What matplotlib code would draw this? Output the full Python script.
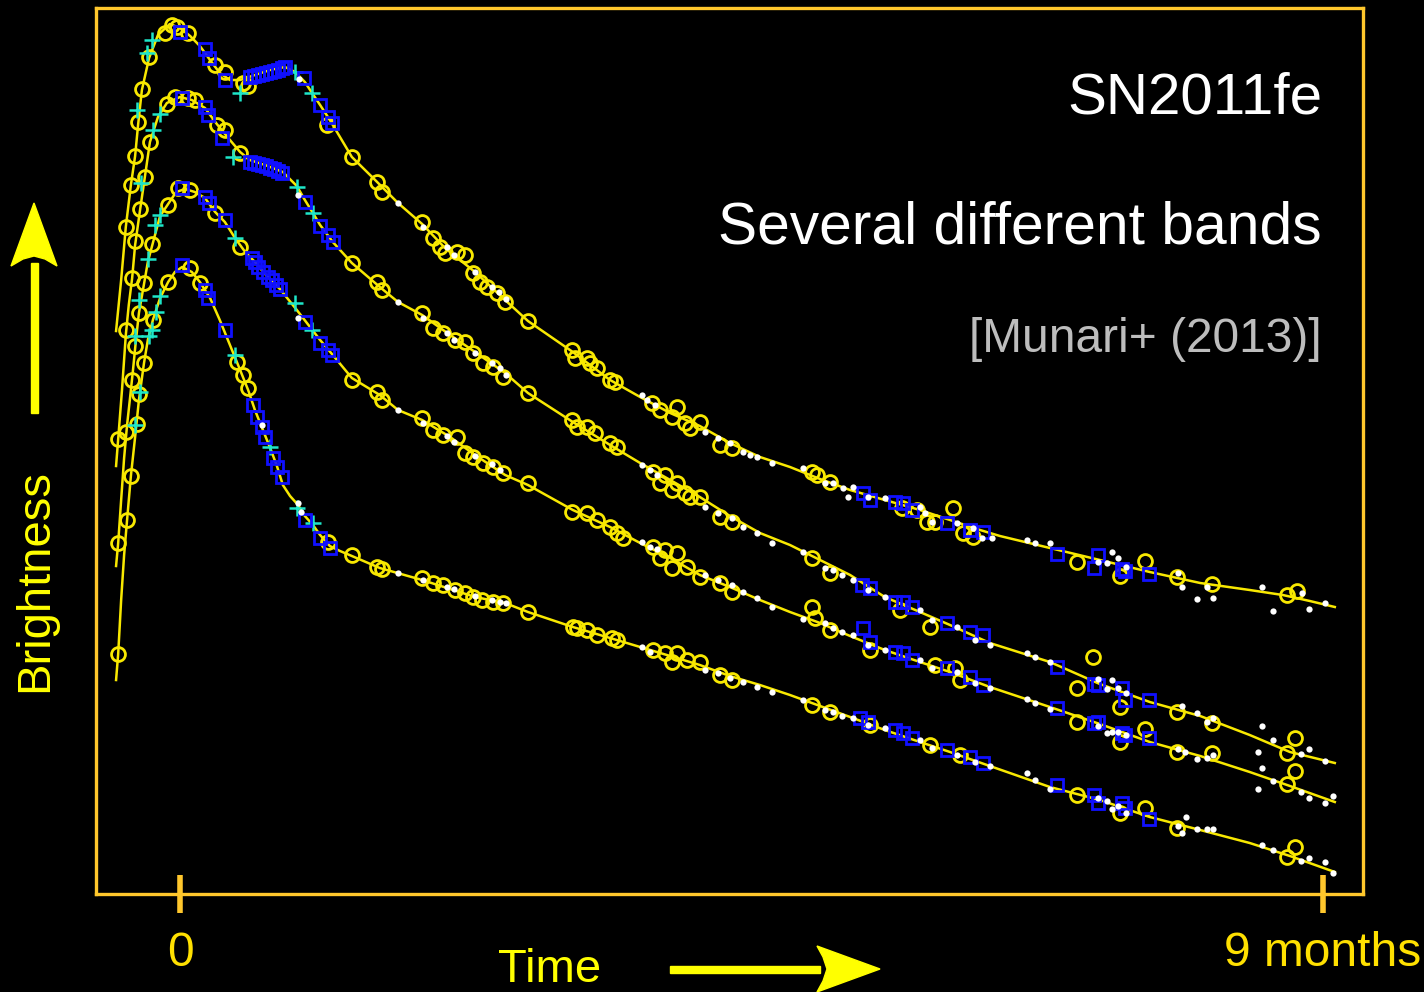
import numpy as np
import matplotlib.pyplot as plt
from matplotlib.patches import Polygon, Rectangle

plt.rcParams['font.family'] = ['Liberation Sans', 'DejaVu Sans']

# light curves of SN2011fe, four bands (top to bottom)
# time in days from peak, brightness as relative magnitude (bigger = fainter)
band_a_line = [(-15.1, 3.31), (-13.9, 2.80), (-12.8, 2.27), (-11.6, 1.85), (-10.6, 1.56), (-9.9, 1.25),
               (-9.0, 0.90), (-7.3, 0.58), (-5.2, 0.35), (-2.4, 0.24), (0, 0.28), (2.4, 0.36), (4.7, 0.46),
               (7.1, 0.60), (9.4, 0.73), (11.8, 0.80), (14.2, 0.80), (17.7, 0.75), (21.3, 0.70), (24.8, 0.67),
               (27.2, 0.72), (29.5, 0.82), (31.2, 0.93), (33.1, 1.05), (35.4, 1.20), (40.6, 1.57), (46.1, 1.80),
               (51.5, 2.03), (57.2, 2.24), (62.6, 2.48), (69.7, 2.72), (76.8, 3.00), (82.2, 3.21), (92.8, 3.52),
               (101.6, 3.80), (108.7, 3.97), (115.8, 4.13), (122.8, 4.26), (129.9, 4.43), (137.0, 4.57),
               (144.1, 4.67), (151.2, 4.79), (158.3, 4.90), (166.5, 5.00), (174.8, 5.10), (181.9, 5.20),
               (189.0, 5.30), (193.7, 5.36), (205.5, 5.48), (217.3, 5.60), (229.1, 5.72), (241.0, 5.83),
               (252.7, 5.90), (260.5, 5.95), (266.9, 6.01), (272.8, 6.07)]
band_b_line = [(-15.1, 4.66), (-14.6, 4.39), (-13.7, 3.90), (-12.8, 3.35), (-12.1, 3.05), (-11.3, 2.78),
               (-10.6, 2.45), (-9.4, 2.09), (-8.3, 1.77), (-7.1, 1.42), (-5.2, 1.17), (-3.1, 1.03), (0, 0.97),
               (2.8, 1.00), (5.9, 1.08), (8.7, 1.24), (11.8, 1.40), (14.2, 1.52), (16.5, 1.60), (20.1, 1.65),
               (24.3, 1.72), (27.6, 1.86), (29.5, 2.00), (31.4, 2.13), (33.1, 2.25), (36.1, 2.42), (40.6, 2.63),
               (47.2, 2.87), (51.5, 3.02), (57.2, 3.15), (63.8, 3.35), (69.7, 3.52), (76.8, 3.73), (82.2, 3.93),
               (92.8, 4.22), (101.6, 4.45), (108.7, 4.63), (115.8, 4.80), (122.8, 4.97), (129.9, 5.16),
               (137.0, 5.33), (144.1, 5.45), (151.2, 5.60), (158.3, 5.75), (166.5, 5.97), (174.8, 6.12),
               (181.9, 6.25), (191.3, 6.43), (205.5, 6.62), (217.3, 6.84), (229.1, 7.02), (241.0, 7.16),
               (252.7, 7.35), (262.2, 7.52), (272.8, 7.63)]
band_c_line = [(-15.1, 5.66), (-14.6, 5.43), (-13.9, 5.00), (-13.2, 4.58), (-12.5, 4.25), (-11.8, 3.98),
               (-11.1, 3.70), (-10.4, 3.40), (-9.7, 3.13), (-8.5, 2.84), (-7.6, 2.62), (-6.6, 2.46),
               (-4.7, 2.16), (-2.8, 2.04), (-0.9, 1.92), (1.2, 1.89), (3.5, 1.92), (5.9, 1.98), (8.3, 2.12),
               (10.6, 2.22), (13.0, 2.38), (15.4, 2.52), (17.7, 2.62), (20.1, 2.74), (23.6, 2.89), (27.6, 3.10),
               (33.1, 3.40), (36.1, 3.55), (40.6, 3.78), (47.2, 3.95), (51.5, 4.10), (57.2, 4.20), (63.8, 4.37),
               (69.7, 4.55), (76.8, 4.75), (82.2, 4.85), (92.8, 5.10), (101.6, 5.27), (108.7, 5.43),
               (115.8, 5.58), (122.8, 5.75), (129.9, 5.87), (137.0, 6.00), (144.1, 6.12), (151.2, 6.23),
               (158.3, 6.36), (166.5, 6.50), (174.8, 6.62), (181.9, 6.72), (191.3, 6.87), (205.5, 7.07),
               (217.3, 7.24), (229.1, 7.42), (241.0, 7.56), (252.7, 7.72), (262.2, 7.86), (272.8, 8.02)]
band_d_line = [(-15.1, 6.80), (-14.6, 6.54), (-13.9, 6.00), (-13.2, 5.55), (-12.5, 5.20), (-11.6, 4.76),
               (-10.6, 4.37), (-9.7, 4.00), (-8.5, 3.63), (-7.6, 3.40), (-6.4, 3.20), (-4.7, 2.98),
               (-2.8, 2.82), (-1.2, 2.72), (0.5, 2.67), (2.8, 2.72), (4.7, 2.82), (7.1, 2.98), (9.4, 3.20),
               (11.8, 3.45), (14.2, 3.70), (16.1, 3.90), (17.7, 4.10), (19.4, 4.28), (21.3, 4.48), (22.9, 4.66),
               (24.3, 4.85), (26.0, 4.96), (27.9, 5.05), (29.5, 5.16), (31.4, 5.25), (33.1, 5.35), (35.4, 5.46),
               (37.8, 5.51), (40.6, 5.56), (47.2, 5.68), (57.2, 5.80), (69.7, 5.97), (76.8, 6.03), (82.2, 6.12),
               (92.8, 6.27), (101.6, 6.38), (108.7, 6.47), (115.8, 6.56), (122.8, 6.65), (129.9, 6.76),
               (137.0, 6.85), (144.1, 6.95), (151.2, 7.06), (158.3, 7.17), (166.5, 7.30), (174.8, 7.42),
               (181.9, 7.52), (191.3, 7.66), (205.5, 7.87), (217.3, 8.00), (229.1, 8.17), (241.0, 8.30),
               (252.7, 8.43), (262.2, 8.56), (272.8, 8.72)]

# yellow circles (one photometry set)
band_a_circ = [(-12.8, 2.27), (-11.6, 1.85), (-10.6, 1.56), (-9.9, 1.22), (-9.0, 0.89), (-7.3, 0.57),
               (-3.5, 0.33), (-1.9, 0.25), (-0.7, 0.27), (1.9, 0.33), (8.3, 0.65), (10.6, 0.72), (14.9, 0.83),
               (16.1, 0.86), (34.7, 1.25), (40.6, 1.57), (46.5, 1.82), (47.7, 1.92), (57.2, 2.22), (59.8, 2.38),
               (61.4, 2.47), (62.6, 2.53), (65.4, 2.52), (67.3, 2.55), (69.2, 2.73), (70.9, 2.82), (72.5, 2.87),
               (74.9, 2.93), (76.8, 3.02), (82.2, 3.21), (92.6, 3.50), (93.3, 3.58), (96.1, 3.58), (96.9, 3.63),
               (98.5, 3.68), (101.6, 3.80), (102.8, 3.82), (111.5, 4.03), (113.4, 4.10), (117.4, 4.07),
               (116.2, 4.17), (119.3, 4.23), (120.5, 4.28), (122.8, 4.22), (127.6, 4.45), (130.4, 4.48),
               (149.3, 4.72), (150.5, 4.75), (153.5, 4.82), (170.6, 5.08), (174.1, 5.10), (176.5, 5.22),
               (178.4, 5.22), (182.6, 5.08), (185.0, 5.33), (187.3, 5.37), (211.9, 5.62), (222.1, 5.76),
               (228.0, 5.61), (235.5, 5.77), (243.8, 5.84), (261.6, 5.95), (263.8, 5.91)]
band_b_circ = [(-14.6, 4.39), (-12.8, 3.30), (-11.3, 2.78), (-10.6, 2.41), (-9.4, 2.09), (-8.3, 1.77),
               (-7.1, 1.42), (-3.1, 1.04), (-1.2, 0.97), (1.9, 0.98), (3.5, 1.00), (8.7, 1.25), (10.6, 1.30),
               (14.2, 1.53), (40.6, 2.63), (46.5, 2.82), (47.7, 2.90), (57.2, 3.13), (59.8, 3.28), (62.1, 3.33),
               (65.0, 3.40), (67.3, 3.42), (69.2, 3.53), (71.6, 3.63), (73.9, 3.67), (76.3, 3.77), (82.2, 3.93),
               (92.6, 4.20), (93.8, 4.27), (96.1, 4.27), (98.0, 4.33), (101.6, 4.43), (103.2, 4.47),
               (111.7, 4.72), (114.6, 4.75), (113.4, 4.83), (117.4, 4.83), (116.2, 4.90), (119.3, 4.93),
               (120.5, 4.97), (122.8, 4.97), (127.6, 5.17), (130.4, 5.22), (149.3, 5.58), (153.5, 5.73),
               (170.1, 6.10), (177.2, 6.27), (211.9, 6.88), (215.7, 6.57), (222.1, 7.07), (235.5, 7.12),
               (243.8, 7.23), (261.4, 7.53), (263.5, 7.38)]
band_c_circ = [(-14.6, 5.43), (-12.8, 4.32), (-11.3, 3.80), (-10.6, 3.46), (-9.7, 3.13), (-8.5, 2.83),
               (-6.6, 2.44), (-2.8, 2.05), (-0.5, 1.88), (2.4, 1.90), (8.3, 2.13), (14.2, 2.47),
               (40.6, 3.80), (46.5, 3.92), (47.7, 4.00), (57.2, 4.18), (59.8, 4.30), (62.1, 4.35), (65.4, 4.37),
               (67.3, 4.53), (69.2, 4.57), (71.6, 4.63), (73.9, 4.67), (76.3, 4.73), (82.2, 4.83), (92.6, 5.12),
               (96.1, 5.13), (98.5, 5.20), (101.6, 5.27), (103.2, 5.33), (104.7, 5.38), (111.7, 5.47),
               (114.6, 5.50), (117.4, 5.53), (113.4, 5.58), (116.2, 5.68), (119.8, 5.67), (122.8, 5.77),
               (127.6, 5.83), (130.4, 5.92), (149.3, 6.07), (150.0, 6.18), (153.5, 6.30), (163.0, 6.50),
               (178.4, 6.65), (183.1, 6.68), (184.3, 6.80), (211.9, 7.22), (222.1, 7.42), (228.0, 7.29),
               (235.5, 7.52), (243.8, 7.53), (261.6, 7.84), (263.5, 7.71)]
band_d_circ = [(-14.6, 6.54), (-12.5, 5.20), (-11.6, 4.76), (-10.2, 4.24), (-9.7, 3.94), (-8.5, 3.63),
               (-6.4, 3.20), (-2.8, 2.82), (2.4, 2.68), (4.7, 2.83), (13.5, 3.62), (14.9, 3.75),
               (16.1, 3.88), (35.0, 5.42), (40.6, 5.55), (46.5, 5.67), (47.7, 5.69), (57.2, 5.78), (59.8, 5.83),
               (62.1, 5.85), (65.0, 5.90), (67.3, 5.93), (69.2, 5.97), (71.3, 6.00), (73.9, 6.02), (76.3, 6.03),
               (82.2, 6.12), (92.8, 6.27), (93.8, 6.28), (96.1, 6.30), (98.5, 6.35), (102.1, 6.38), (103.2, 6.40),
               (111.7, 6.50), (114.6, 6.53), (117.4, 6.53), (116.2, 6.62), (119.8, 6.60), (122.8, 6.62),
               (127.6, 6.75), (130.4, 6.80), (149.3, 7.05), (153.5, 7.12), (163.0, 7.25), (177.2, 7.45),
               (184.3, 7.55), (211.9, 7.95), (222.1, 8.13), (228.0, 8.08), (235.5, 8.28), (261.6, 8.57),
               (263.5, 8.47)]

# cyan crosses
band_a_plus = [(-10.2, 1.10), (-7.8, 0.53), (-6.6, 0.40), (14.2, 0.93), (27.2, 0.72), (31.2, 0.93)]
band_b_plus = [(-9.2, 1.83), (-6.4, 1.30), (-4.7, 1.14), (12.5, 1.57), (27.6, 1.87), (31.4, 2.13)]
band_c_plus = [(-10.6, 3.36), (-9.7, 3.00), (-7.6, 2.59), (-5.9, 2.25), (-4.7, 2.15), (13.0, 2.38),
               (27.2, 3.03), (31.2, 3.30)]
band_d_plus = [(-10.6, 4.25), (-9.4, 3.92), (-7.3, 3.36), (-6.6, 3.30), (-5.7, 3.12), (-4.7, 2.96),
               (13.0, 3.55), (21.3, 4.47), (27.6, 5.08), (31.4, 5.23)]

# blue squares
band_a_sq = [(0, 0.32), (5.9, 0.49), (6.9, 0.58), (10.6, 0.80), (16.5, 0.77), (17.5, 0.76), (18.4, 0.75),
             (19.4, 0.74), (20.3, 0.73), (21.3, 0.72), (22.2, 0.71), (23.2, 0.70), (24.1, 0.68), (24.8, 0.67),
             (29.3, 0.78), (33.1, 1.05), (35.0, 1.17), (35.9, 1.23), (161.3, 4.93), (163.0, 5.00),
             (168.9, 5.02), (170.8, 5.03), (172.9, 5.10), (181.2, 5.23), (186.6, 5.30), (189.7, 5.32),
             (207.2, 5.54), (216.9, 5.55), (215.9, 5.68), (222.5, 5.69), (223.2, 5.71), (228.9, 5.74)]
band_b_sq = [(0.5, 0.98), (5.9, 1.07), (6.6, 1.15), (9.9, 1.38), (16.5, 1.62), (17.5, 1.63), (18.4, 1.64),
             (19.4, 1.65), (20.3, 1.66), (21.3, 1.68), (22.2, 1.69), (23.2, 1.71), (24.1, 1.73), (29.5, 2.02),
             (33.1, 2.26), (35.0, 2.35), (36.1, 2.42), (161.1, 5.85), (163.0, 5.88), (168.9, 6.02),
             (170.8, 6.02), (172.9, 6.07), (181.2, 6.23), (186.6, 6.32), (189.7, 6.35), (207.2, 6.67),
             (215.9, 6.84), (216.9, 6.85), (222.5, 6.88), (223.2, 7.00), (228.9, 7.00)]
band_c_sq = [(0.5, 1.88), (5.9, 1.97), (6.9, 2.03), (10.6, 2.20), (17.0, 2.58), (17.7, 2.62), (18.4, 2.67),
             (19.6, 2.72), (20.8, 2.77), (21.7, 2.80), (22.7, 2.85), (23.6, 2.89), (29.5, 3.22), (33.1, 3.43),
             (35.0, 3.50), (35.9, 3.55), (161.3, 6.28), (163.0, 6.42), (168.9, 6.52), (170.8, 6.53),
             (172.9, 6.60), (181.2, 6.68), (186.6, 6.77), (189.7, 6.85), (207.2, 7.08), (215.9, 7.23),
             (216.9, 7.22), (222.5, 7.33), (223.2, 7.35), (228.9, 7.38)]
band_d_sq = [(0.5, 2.65), (5.9, 2.90), (6.6, 2.98), (10.6, 3.30), (17.2, 4.05), (18.2, 4.17), (19.4, 4.27),
             (20.1, 4.37), (22.0, 4.58), (22.9, 4.67), (24.1, 4.77), (29.5, 5.20), (33.1, 5.38), (35.4, 5.48),
             (160.6, 7.18), (162.5, 7.22), (168.9, 7.30), (170.8, 7.33), (172.9, 7.38), (181.2, 7.50),
             (186.6, 7.57), (189.7, 7.63), (207.2, 7.85), (215.9, 7.95), (216.9, 8.03), (222.5, 8.03),
             (223.2, 8.08), (228.9, 8.19)]

# white dots
band_a_dot = [(28.1, 0.79), (51.5, 2.03), (57.4, 2.27), (63.1, 2.47), (64.7, 2.55), (69.7, 2.72), (73.7, 2.87),
              (75.4, 2.92), (77.0, 2.99), (109.2, 3.95), (110.3, 4.00), (112.2, 4.05), (124.0, 4.32),
              (127.1, 4.38), (129.9, 4.43), (133.0, 4.52), (134.7, 4.55), (136.3, 4.57), (139.8, 4.63),
              (147.2, 4.68), (152.4, 4.83), (154.3, 4.83), (156.6, 4.88), (157.8, 4.97), (159.0, 4.87),
              (162.5, 4.97), (166.5, 4.98), (174.8, 5.07), (176.0, 5.13), (177.6, 5.22), (183.5, 5.23),
              (187.3, 5.28), (189.5, 5.38), (191.8, 5.38), (200.1, 5.40), (202.0, 5.43), (205.5, 5.43),
              (216.9, 5.62), (219.0, 5.63), (220.2, 5.52), (221.6, 5.58), (223.5, 5.67), (235.8, 5.73),
              (236.7, 5.87), (240.2, 5.99), (242.6, 5.87), (244.0, 5.98), (255.5, 5.87), (258.1, 6.11),
              (265.0, 5.93), (266.7, 6.09), (270.5, 6.03)]
band_b_dot = [(27.9, 1.95), (51.5, 3.02), (57.4, 3.18), (63.1, 3.33), (64.7, 3.40), (69.7, 3.53), (73.7, 3.63),
              (75.6, 3.68), (77.0, 3.75), (109.2, 4.65), (111.0, 4.70), (112.7, 4.75), (124.0, 5.07),
              (127.1, 5.13), (130.4, 5.18), (133.0, 5.27), (136.3, 5.33), (139.8, 5.43), (147.2, 5.52),
              (152.4, 5.68), (154.3, 5.70), (156.4, 5.75), (159.0, 5.80), (162.5, 5.90), (166.5, 5.97),
              (174.8, 6.10), (177.6, 6.20), (183.5, 6.27), (187.8, 6.40), (191.3, 6.45), (200.1, 6.53),
              (202.0, 6.57), (205.5, 6.62), (216.9, 6.79), (219.0, 6.89), (220.2, 6.80), (221.6, 6.88),
              (223.5, 6.93), (236.7, 7.06), (240.2, 7.13), (242.6, 7.22), (244.0, 7.18), (254.6, 7.52),
              (255.5, 7.26), (258.1, 7.40), (264.8, 7.54), (266.7, 7.49), (270.5, 7.61)]
band_c_dot = [(27.9, 3.18), (51.5, 4.10), (57.4, 4.23), (63.1, 4.36), (64.7, 4.42), (69.7, 4.56), (73.7, 4.64),
              (75.6, 4.70), (109.2, 5.42), (111.0, 5.47), (112.7, 5.49), (124.0, 5.75), (127.1, 5.80),
              (130.4, 5.85), (133.0, 5.92), (136.3, 5.98), (139.8, 6.07), (147.2, 6.19), (152.4, 6.23),
              (154.3, 6.28), (156.4, 6.32), (159.0, 6.35), (162.5, 6.45), (166.5, 6.50), (174.8, 6.60),
              (177.6, 6.68), (183.5, 6.72), (187.8, 6.83), (191.3, 6.88), (200.1, 6.99), (202.0, 7.03),
              (205.5, 7.09), (216.9, 7.26), (219.0, 7.33), (220.2, 7.32), (221.6, 7.32), (223.5, 7.35),
              (235.8, 7.49), (237.4, 7.52), (240.2, 7.59), (242.6, 7.58), (244.0, 7.55), (254.6, 7.89),
              (255.5, 7.68), (258.1, 7.81), (264.8, 7.92), (266.7, 7.98), (270.5, 8.03), (272.4, 7.96)]
band_d_dot = [(19.4, 4.25), (27.9, 5.03), (28.6, 5.12), (51.5, 5.73), (57.4, 5.80), (63.1, 5.87), (64.7, 5.89),
              (69.7, 5.96), (73.7, 6.00), (75.6, 6.02), (77.0, 6.03), (109.2, 6.47), (111.0, 6.52),
              (124.0, 6.70), (127.1, 6.73), (129.9, 6.78), (133.0, 6.82), (136.3, 6.87), (139.8, 6.92),
              (147.2, 7.00), (152.4, 7.10), (154.3, 7.12), (156.4, 7.16), (159.0, 7.18), (162.5, 7.25),
              (166.5, 7.28), (174.8, 7.40), (177.6, 7.48), (183.5, 7.55), (187.8, 7.62), (191.3, 7.66),
              (200.1, 7.73), (202.0, 7.80), (205.5, 7.89), (216.9, 7.98), (219.0, 8.01), (220.2, 8.09),
              (221.6, 8.06), (223.5, 8.13), (235.8, 8.26), (236.7, 8.33), (237.7, 8.17), (240.2, 8.29),
              (242.6, 8.29), (244.0, 8.29), (255.5, 8.45), (258.1, 8.50), (264.8, 8.61), (266.7, 8.58),
              (270.5, 8.62), (272.4, 8.73)]

tick_days = [0, 270]
tick_labels = ['0', '9 months']

YELLOW = '#F8E800'
GOLD = '#FFC72C'
CYAN = '#1EE6C8'
BLUE = '#1010FF'

W, H = 1424, 992
fig = plt.figure(figsize=(W / 100, H / 100), dpi=100, facecolor='black')
ax = fig.add_axes([96 / W, 1 - 894 / H, (1363 - 96) / W, (894 - 8) / H])
ax.set_facecolor('black')


def unzip(pts):
    a = np.array(pts)
    return a[:, 0], a[:, 1]


lines = [band_a_line, band_b_line, band_c_line, band_d_line]
circs = [band_a_circ, band_b_circ, band_c_circ, band_d_circ]
pluses = [band_a_plus, band_b_plus, band_c_plus, band_d_plus]
squares = [band_a_sq, band_b_sq, band_c_sq, band_d_sq]
dots = [band_a_dot, band_b_dot, band_c_dot, band_d_dot]

for ln in lines:
    t, m = unzip(ln)
    ax.plot(t, m, '-', color=YELLOW, lw=1.8, zorder=2)
for c in circs:
    t, m = unzip(c)
    ax.plot(t, m, 'o', mfc='none', mec=YELLOW, mew=2, ms=10, zorder=3)
for p in pluses:
    t, m = unzip(p)
    ax.plot(t, m, '+', color=CYAN, mew=1.8, ms=11, zorder=4)
for s in squares:
    t, m = unzip(s)
    ax.plot(t, m, 's', mfc='none', mec=BLUE, mew=2, ms=8.5, zorder=5)
for d in dots:
    t, m = unzip(d)
    ax.plot(t, m, 'o', color='white', mec='none', ms=4.5, zorder=6)

ax.set_xlim(-19.84, 279.46)
ax.set_ylim(8.94, 0.08)
ax.set_yticks([])
ax.set_xticks(tick_days)
ax.set_xticklabels(tick_labels)
ax.tick_params(axis='x', direction='inout', length=27, width=4, color=GOLD, pad=13,
               labelsize=34.5, labelcolor='#FFE000')
for sp in ax.spines.values():
    sp.set_color(GOLD)
    sp.set_linewidth(2.4)

# annotation texts
fig.text(1322 / W, 1 - 113 / H, 'SN2011fe', color='white', fontsize=42, ha='right', va='baseline')
fig.text(1322 / W, 1 - 243 / H, 'Several different bands', color='white', fontsize=42.3, ha='right',
         va='baseline')
fig.text(1322 / W, 1 - 352 / H, '[Munari+ (2013)]', color='#BDBDBD', fontsize=34.5, ha='right', va='baseline')

# axis captions with hand drawn arrows (figure pixel coords)
fig.text(550 / W, 1 - 982 / H, 'Time', color='#FFFF00', fontsize=34, ha='center', va='baseline')
fig.text(35 / W, 1 - 580 / H, 'Brightness', color='#FFFF00', fontsize=34, rotation=90,
         ha='center', va='center')


def fig_pts(pts):
    return [(x / W, 1 - y / H) for x, y in pts]


fig.patches.append(Rectangle((670 / W, 1 - 973 / H), 150 / W, 7 / H, transform=fig.transFigure,
                             color='#FFFF00'))
fig.patches.append(Polygon(fig_pts([(880, 969), (817, 946), (823, 957), (827, 969), (823, 981), (817, 992)]),
                           closed=True, transform=fig.transFigure, color='#FFFF00'))
fig.patches.append(Rectangle((31 / W, 1 - 413 / H), 7 / W, 150 / H, transform=fig.transFigure,
                             color='#FFFF00'))
fig.patches.append(Polygon(fig_pts([(34, 203), (57, 266), (45, 259), (34, 256), (23, 259), (11, 266)]),
                           closed=True, transform=fig.transFigure, color='#FFFF00'))

fig.savefig('out.png', dpi=100, facecolor='black')
